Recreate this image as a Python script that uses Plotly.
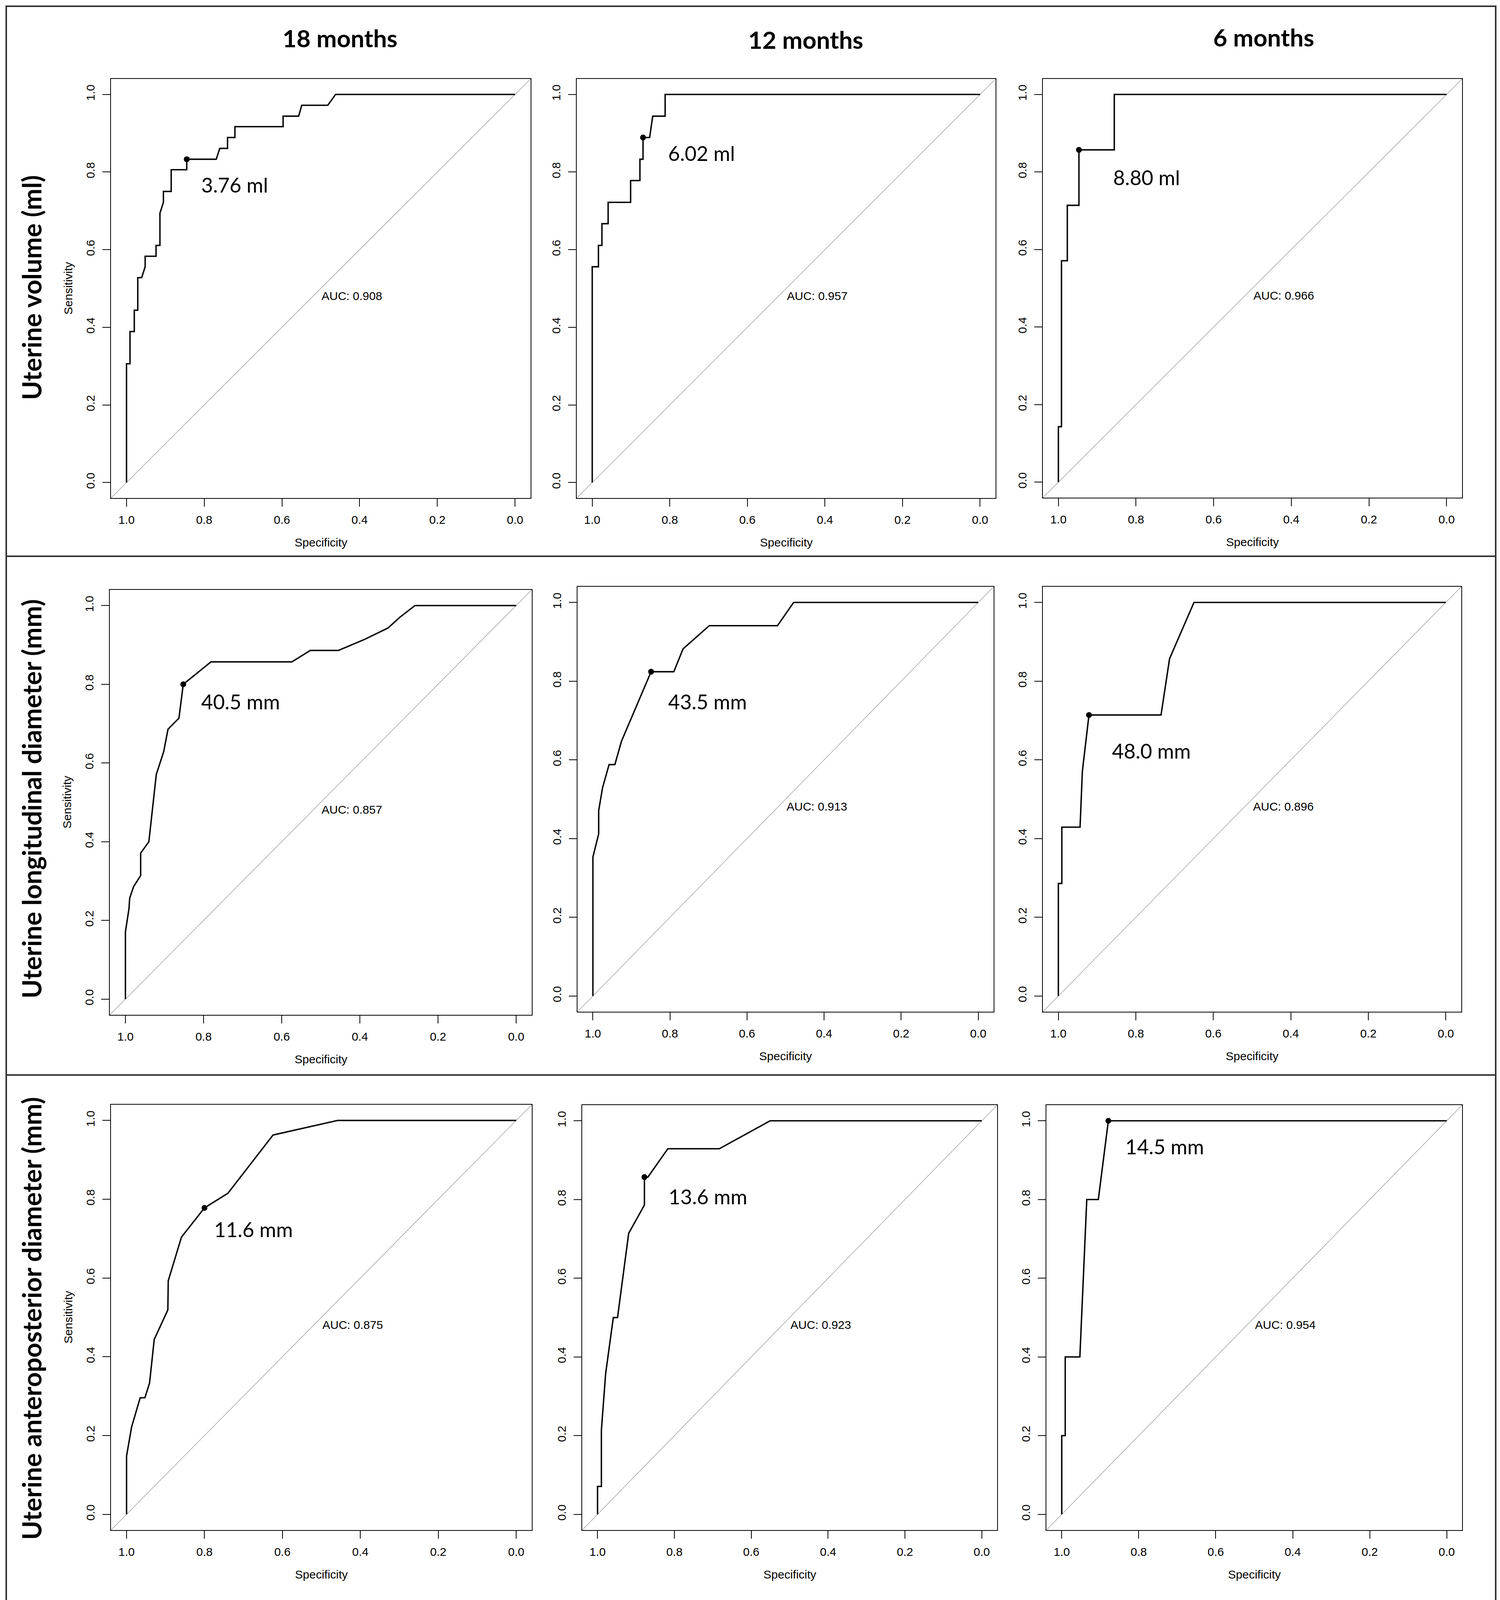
import plotly.graph_objects as go

W, H = 3839, 4140

col_titles = ["18 months", "12 months", "6 months"]
row_titles = [
    "Uterine volume (ml)",
    "Uterine longitudinal diameter (mm)",
    "Uterine anteroposterior diameter (mm)",
]

# ROC curves: specificity / sensitivity, row by row
spec_vol_18 = [1.0, 1.0, 0.991, 0.991, 0.980, 0.980, 0.971, 0.971, 0.961, 0.952, 0.952, 0.924, 0.924,
               0.914, 0.914, 0.905, 0.905, 0.885, 0.885, 0.845, 0.845, 0.769, 0.760, 0.740, 0.740,
               0.721, 0.721, 0.597, 0.597, 0.557, 0.549, 0.482, 0.462, 0.0]
sens_vol_18 = [0.0, 0.306, 0.306, 0.389, 0.389, 0.444, 0.444, 0.528, 0.528, 0.556, 0.583, 0.583, 0.611,
               0.611, 0.694, 0.722, 0.750, 0.750, 0.806, 0.806, 0.833, 0.833, 0.861, 0.861, 0.889,
               0.889, 0.917, 0.917, 0.944, 0.944, 0.972, 0.972, 1.0, 1.0]

spec_vol_12 = [1.0, 1.0, 0.984, 0.984, 0.975, 0.975, 0.959, 0.959, 0.901, 0.901, 0.877, 0.877, 0.869,
               0.869, 0.852, 0.844, 0.812, 0.812, 0.0]
sens_vol_12 = [0.0, 0.556, 0.556, 0.611, 0.611, 0.667, 0.667, 0.722, 0.722, 0.778, 0.778, 0.833, 0.833,
               0.889, 0.889, 0.944, 0.944, 1.0, 1.0]

spec_vol_6 = [1.0, 1.0, 0.992, 0.992, 0.977, 0.977, 0.947, 0.947, 0.856, 0.856, 0.0]
sens_vol_6 = [0.0, 0.143, 0.143, 0.571, 0.571, 0.714, 0.714, 0.857, 0.857, 1.0, 1.0]

spec_long_18 = [1.0, 1.0, 0.991, 0.989, 0.979, 0.961, 0.961, 0.940, 0.921, 0.902, 0.891, 0.863, 0.852,
                0.781, 0.574, 0.527, 0.455, 0.388, 0.328, 0.297, 0.259, 0.0]
sens_long_18 = [0.0, 0.171, 0.229, 0.257, 0.286, 0.314, 0.371, 0.400, 0.571, 0.629, 0.686, 0.714, 0.800,
                0.857, 0.857, 0.886, 0.886, 0.914, 0.943, 0.971, 1.0, 1.0]

spec_long_12 = [1.0, 1.0, 0.985, 0.985, 0.975, 0.958, 0.943, 0.926, 0.849, 0.790, 0.766, 0.698, 0.521,
                0.479, 0.0]
sens_long_12 = [0.0, 0.353, 0.412, 0.471, 0.529, 0.588, 0.588, 0.647, 0.824, 0.824, 0.882, 0.941, 0.941,
                1.0, 1.0]

spec_long_6 = [1.0, 1.0, 0.991, 0.991, 0.944, 0.938, 0.921, 0.735, 0.713, 0.650, 0.0]
sens_long_6 = [0.0, 0.286, 0.286, 0.429, 0.429, 0.571, 0.714, 0.714, 0.857, 1.0, 1.0]

spec_ap_18 = [1.0, 1.0, 0.987, 0.965, 0.953, 0.941, 0.929, 0.894, 0.893, 0.859, 0.800, 0.740, 0.624,
              0.458, 0.0]
sens_ap_18 = [0.0, 0.148, 0.222, 0.296, 0.296, 0.333, 0.444, 0.519, 0.593, 0.704, 0.778, 0.815, 0.963,
              1.0, 1.0]

spec_ap_12 = [1.0, 1.0, 0.990, 0.990, 0.979, 0.959, 0.948, 0.919, 0.878, 0.878, 0.869, 0.817, 0.683,
              0.551, 0.0]
sens_ap_12 = [0.0, 0.071, 0.071, 0.214, 0.357, 0.500, 0.500, 0.714, 0.786, 0.857, 0.857, 0.929, 0.929,
              1.0, 1.0]

spec_ap_6 = [1.0, 1.0, 0.991, 0.991, 0.953, 0.935, 0.905, 0.879, 0.0]
sens_ap_6 = [0.0, 0.2, 0.2, 0.4, 0.4, 0.8, 0.8, 1.0, 1.0]

all_spec = [spec_vol_18, spec_vol_12, spec_vol_6,
            spec_long_18, spec_long_12, spec_long_6,
            spec_ap_18, spec_ap_12, spec_ap_6]
all_sens = [sens_vol_18, sens_vol_12, sens_vol_6,
            sens_long_18, sens_long_12, sens_long_6,
            sens_ap_18, sens_ap_12, sens_ap_6]

# best thresholds
cut_spec = [0.845, 0.869, 0.947, 0.852, 0.849, 0.921, 0.800, 0.878, 0.879]
cut_sens = [0.833, 0.889, 0.857, 0.800, 0.824, 0.714, 0.778, 0.857, 1.0]
cut_text = ["3.76 ml", "6.02 ml", "8.80 ml", "40.5 mm", "43.5 mm", "48.0 mm", "11.6 mm", "13.6 mm", "14.5 mm"]
auc = [0.908, 0.957, 0.966, 0.857, 0.913, 0.896, 0.875, 0.923, 0.954]

# where the threshold labels sit (specificity, sensitivity)
label_spec = [0.810, 0.806, 0.861, 0.808, 0.807, 0.864, 0.777, 0.817, 0.837]
label_sens = [0.767, 0.849, 0.786, 0.756, 0.748, 0.623, 0.724, 0.808, 0.935]

# panel boxes in page pixels: left, right, top, bottom
boxes = [(284, 1358, 202, 1275), (1476, 2548, 202, 1275), (2669, 3742, 202, 1274),
         (281, 1361, 1510, 2598), (1478, 2543, 1502, 2590), (2669, 3740, 1502, 2590),
         (284, 1361, 2828, 3917), (1490, 2552, 2829, 3917), (2678, 3742, 2829, 3917)]

axis_font = dict(family="Liberation Sans", size=30, color="black")

fig = go.Figure()
shapes = []
annotations = []

for i in range(9):
    n = "" if i == 0 else str(i + 1)
    xa, ya = "x" + n, "y" + n
    left, right, top, bottom = boxes[i]

    fig.add_trace(go.Scatter(
        x=all_spec[i], y=all_sens[i], mode="lines",
        line=dict(color="black", width=3.6),
        xaxis=xa, yaxis=ya, showlegend=False, hoverinfo="skip"
    ))
    fig.add_trace(go.Scatter(
        x=[cut_spec[i]], y=[cut_sens[i]], mode="markers",
        marker=dict(color="black", size=15),
        xaxis=xa, yaxis=ya, showlegend=False, hoverinfo="skip"
    ))

    common = dict(
        showline=True, linecolor="black", linewidth=1.6, mirror=True,
        showgrid=False, zeroline=False,
        ticks="outside", ticklen=20, tickwidth=1.6, tickcolor="black",
        tick0=0, dtick=0.2, tickformat=".1f", tickfont=axis_font,
        automargin=False,
    )
    fig.layout["xaxis" + n] = dict(
        domain=[left / W, right / W], range=[1.04, -0.04], anchor=ya,
        ticklabelstandoff=8, **common
    )
    fig.layout["yaxis" + n] = dict(
        domain=[1 - bottom / H, 1 - top / H], range=[-0.04, 1.04], anchor=xa,
        tickangle=-90, ticklabelstandoff=8, **common
    )

    # chance line across the whole box
    shapes.append(dict(
        type="line", xref=xa + " domain", yref=ya + " domain",
        x0=0, y0=0, x1=1, y1=1, line=dict(color="#a3a3a3", width=1.5), layer="below"
    ))

    annotations.append(dict(
        x=0.5, y=0.5, xref=xa, yref=ya, text=f"AUC: {auc[i]:.3f}",
        xanchor="left", yanchor="top", showarrow=False, font=axis_font
    ))
    annotations.append(dict(
        x=label_spec[i], y=label_sens[i], xref=xa, yref=ya, text=cut_text[i],
        xanchor="left", yanchor="middle", showarrow=False,
        font=dict(family="Lato", size=52, color="black")
    ))
    annotations.append(dict(
        x=0.5, y=0, xref=xa + " domain", yref=ya + " domain", text="Specificity",
        xanchor="center", yanchor="middle", yshift=-113, showarrow=False, font=axis_font
    ))
    if i % 3 == 0:
        annotations.append(dict(
            x=0, y=0.5, xref=xa + " domain", yref=ya + " domain", text="Sensitivity",
            xanchor="center", yanchor="middle", xshift=-110, textangle=-90,
            showarrow=False, font=axis_font
        ))

# column headers and row headers
col_pos = [(870, 97), (2062, 101), (3234, 95)]
for title, (px, py) in zip(col_titles, col_pos):
    annotations.append(dict(
        x=px / W, y=1 - py / H, xref="paper", yref="paper", text=title,
        xanchor="center", yanchor="middle", showarrow=False,
        font=dict(family="Lato", size=62, color="black", weight="bold")
    ))

row_pos = [736, 2045, 3375]
for title, py in zip(row_titles, row_pos):
    annotations.append(dict(
        x=80 / W, y=1 - py / H, xref="paper", yref="paper", text=title,
        xanchor="center", yanchor="middle", textangle=-90, showarrow=False,
        font=dict(family="Lato", size=66, color="black", weight="bold")
    ))

# outer frame and row separators
frame_col = "#333333"
shapes.append(dict(type="rect", xref="paper", yref="paper",
                   x0=16 / W, x1=3828 / W, y0=1 - 4127 / H, y1=1 - 16 / H,
                   line=dict(color=frame_col, width=4)))
for sep in [1424, 2752]:
    shapes.append(dict(type="line", xref="paper", yref="paper",
                       x0=16 / W, x1=3828 / W, y0=1 - sep / H, y1=1 - sep / H,
                       line=dict(color=frame_col, width=4)))

fig.update_layout(
    width=W, height=H,
    margin=dict(l=0, r=0, t=0, b=0),
    paper_bgcolor="white", plot_bgcolor="white",
    shapes=shapes, annotations=annotations,
    showlegend=False,
)

fig.write_html("out.html", config={"displayModeBar": False},
               post_script="document.body.style.margin='0';")
